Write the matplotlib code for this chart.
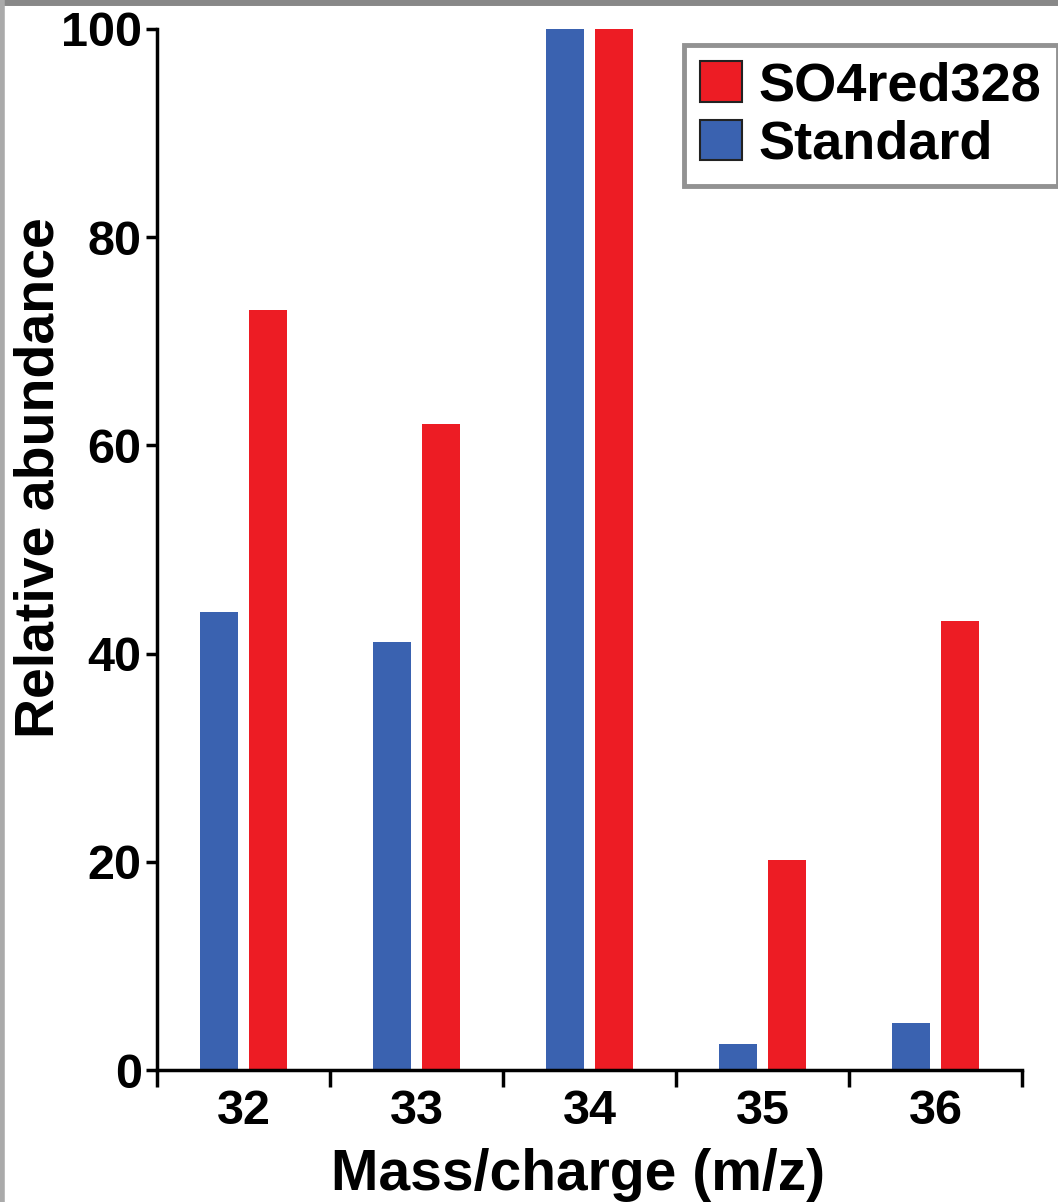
import matplotlib
matplotlib.use("Agg")
import matplotlib.pyplot as plt
import numpy as np

# Isotope abundance data
masses = ["32", "33", "34", "35", "36"]
standard = [44.0, 41.1, 100.0, 2.5, 4.5]
so4red328 = [73.0, 62.1, 100.0, 20.2, 43.1]
yticks = [0, 20, 40, 60, 80, 100]

FONT = "Liberation Sans"
RED = "#ED1C24"
BLUE = "#3A62B0"

fig = plt.figure(figsize=(10.58, 12.02), dpi=100)
ax = fig.add_axes([0.1484, 0.1098, 0.966 - 0.1484, 0.9759 - 0.1098])

x = np.arange(len(masses))
w = 0.22
off = 0.14
ax.bar(x - off, standard, width=w, color=BLUE, label="Standard", zorder=2)
ax.bar(x + off, so4red328, width=w, color=RED, label="SO4red328", zorder=2)

ax.set_xlim(-0.5, len(masses) - 0.5)
ax.set_ylim(0, 100)
ax.set_yticks(yticks)
ax.set_yticklabels([str(v) for v in yticks], fontsize=35, fontweight="bold", family=FONT)

# category boundaries carry the ticks; labels sit at category centres
ax.set_xticks(np.arange(-0.5, len(masses) + 0.5, 1.0))
ax.set_xticklabels([])
ax.set_xticks(x, minor=True)
ax.set_xticklabels(masses, minor=True, fontsize=35, fontweight="bold", family=FONT)
ax.tick_params(axis="x", which="minor", length=0, pad=14)
ax.tick_params(axis="x", which="major", length=12, width=2.5, direction="out")
ax.tick_params(axis="y", length=8, width=2.5, direction="out", pad=3)

for s in ["top", "right"]:
    ax.spines[s].set_visible(False)
for s in ["left", "bottom"]:
    ax.spines[s].set_linewidth(2.5)

ax.set_xlabel("Mass/charge (m/z)", fontsize=41, fontweight="bold", family=FONT)
ax.xaxis.set_label_coords(0.487, -0.0745)
fig.text(40 / 1058, 1 - 478 / 1202, "Relative abundance", rotation=90,
         ha="center", va="center", fontsize=40, fontweight="bold", family=FONT)

handles, labels = ax.get_legend_handles_labels()
leg = ax.legend(handles[::-1], labels[::-1], loc="upper left",
                bbox_to_anchor=(0.609, 0.9846),
                prop={"family": FONT, "weight": "bold", "size": 39},
                frameon=True, fancybox=False, handlelength=0.78, handleheight=0.78,
                handletextpad=0.3, borderpad=0.3, labelspacing=0.15, borderaxespad=0)
leg.get_frame().set_edgecolor("#777777")
leg.get_frame().set_linewidth(3.5)
for p in leg.get_patches():
    p.set_edgecolor("#222222")
    p.set_linewidth(1.5)

# thin grey frame along the top and left edges of the figure
fig.add_artist(plt.Line2D([0, 1], [0.998, 0.998], color="#888888", lw=5, transform=fig.transFigure))
fig.add_artist(plt.Line2D([0.002, 0.002], [0, 1], color="#aaaaaa", lw=4, transform=fig.transFigure))

fig.savefig("out.png", dpi=100)
